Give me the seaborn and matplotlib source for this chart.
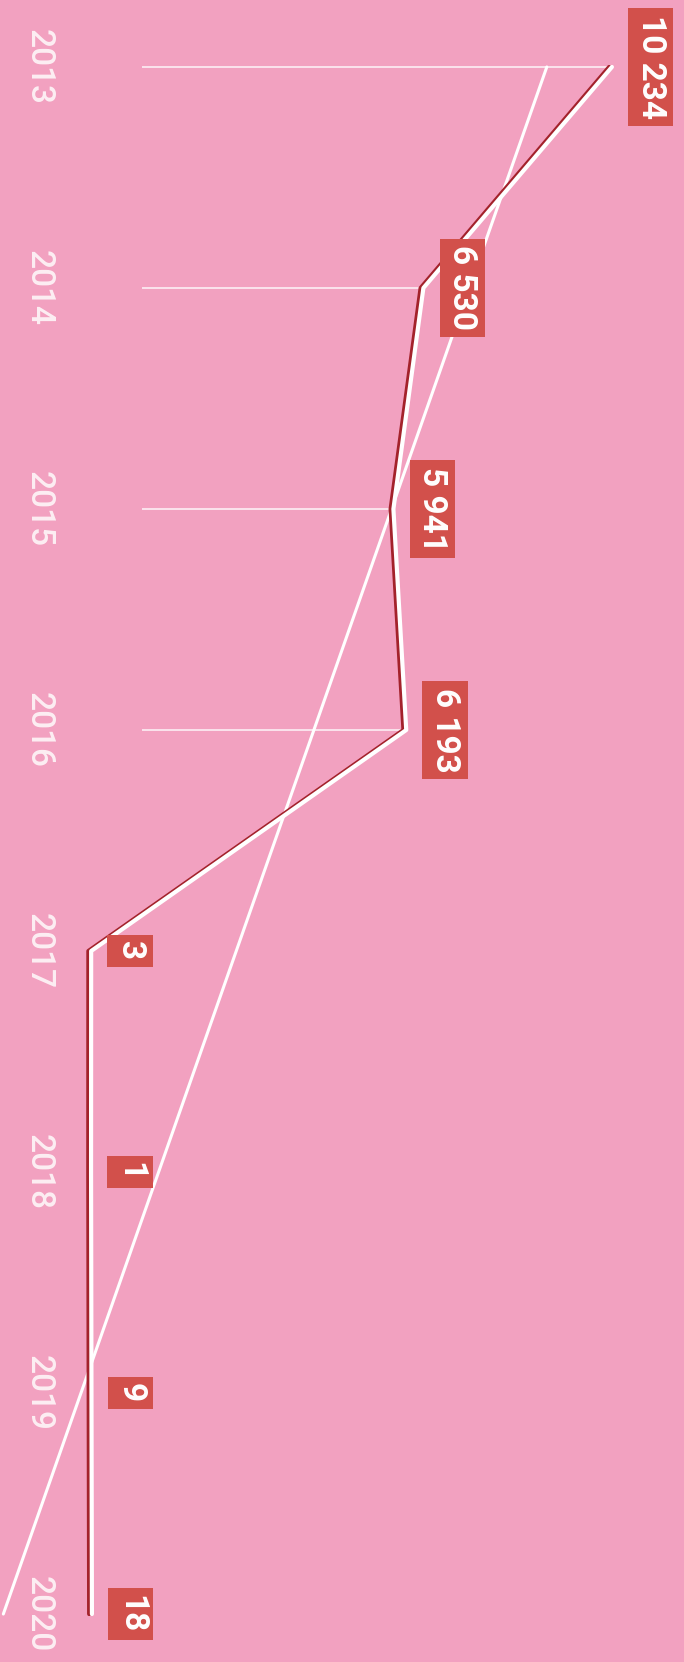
import numpy as np
import pandas as pd
import matplotlib
matplotlib.use('Agg')
import matplotlib.pyplot as plt
import matplotlib.patheffects as pe
import seaborn as sns

# dados (gráfico girado 90 graus)
anos = [2013, 2014, 2015, 2016, 2017, 2018, 2019, 2020]
valores = [10234, 6530, 5941, 6193, 3, 1, 9, 18]
rotulos = ['10 234', '6 530', '5 941', '6 193', '3', '1', '9', '18']

df = pd.DataFrame({'ano': anos, 'valor': valores})

# linha de tendência (regressão linear dos valores)
coef = np.polyfit(df['ano'], df['valor'], 1)
tend = pd.DataFrame({'ano': anos, 'valor': np.polyval(coef, anos)})

fundo = '#f2a1c0'
vermelho = '#d2504b'
branco = '#ffffff'

sns.set_style('white')
plt.rcParams['font.family'] = ['Roboto', 'DejaVu Sans']

fig = plt.figure(figsize=(6.84, 16.62), dpi=100, facecolor=fundo)
ax = fig.add_axes([0, 0, 1, 1])
ax.set_facecolor(fundo)

# linhas horizontais finas de cada ano até o ponto
for a, v in zip(anos, valores):
    if v > 1000:
        ax.hlines(a, 1000, v, color=branco, lw=1.4, alpha=0.7, zorder=2)

sns.lineplot(data=tend, x='valor', y='ano', orient='y', sort=False,
             color=branco, lw=2.2, ax=ax, zorder=3)

sns.lineplot(data=df, x='valor', y='ano', orient='y', sort=False,
             color=branco, lw=3, ax=ax, zorder=4,
             path_effects=[pe.SimpleLineShadow(offset=(-2, 0), shadow_color='#a3222b', alpha=1),
                           pe.Normal()])

# rótulos dos valores em caixas vermelhas
for a, v, r in zip(anos, valores, rotulos):
    ax.annotate(r, (v, a), xytext=(28, 0), textcoords='offset points',
                ha='center', va='center', rotation=270, fontsize=24,
                fontweight='bold', color=branco, zorder=5,
                bbox=dict(boxstyle='square,pad=0.2', fc=vermelho, ec='none'))

# anos à esquerda
for a in anos:
    ax.text(0.056, a, str(a), transform=ax.get_yaxis_transform(),
            ha='center', va='center', rotation=270, fontsize=24,
            fontweight='medium', color='#fdeef3', zorder=5)

ax.set_xlim(-1788, 11650)
ax.set_ylim(2020.217, 2012.697)
ax.set_xlabel('')
ax.set_ylabel('')
ax.set_xticks([])
ax.set_yticks([])
for s in ax.spines.values():
    s.set_visible(False)

fig.savefig('out.png', dpi=100, facecolor=fundo)
